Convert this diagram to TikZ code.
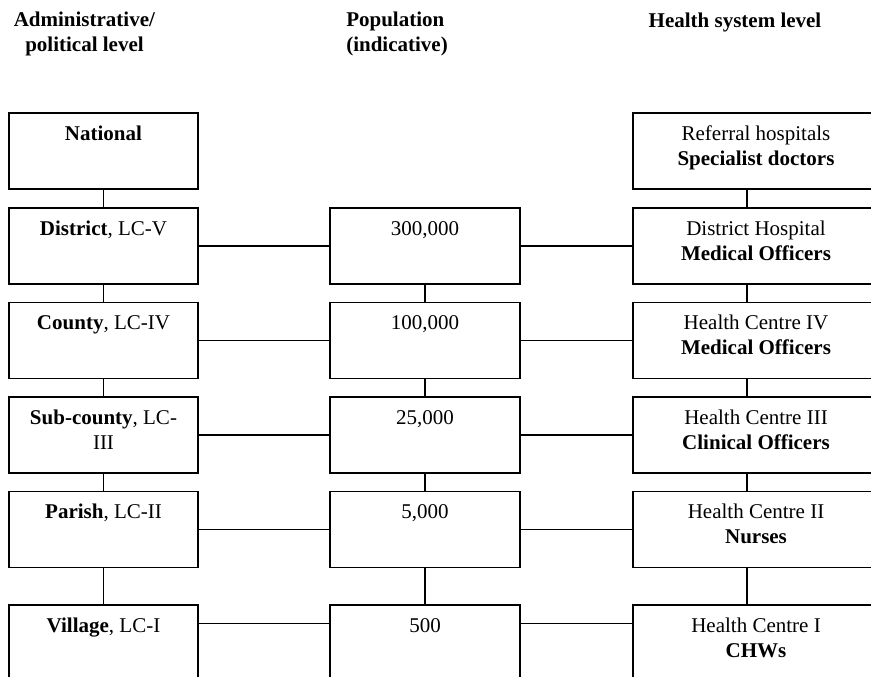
\documentclass[tikz,border=0pt]{standalone}
\usepackage{fontspec}
\setmainfont{Liberation Serif}
\usetikzlibrary{calc}
\tikzset{
  box/.style={draw, line width=0.9pt, inner sep=0pt, minimum height=57pt},
  adm/.style={box, minimum width=141.75pt},
  pop/.style={box, minimum width=142.5pt},
  hsl/.style={box, minimum width=184.5pt},
  tallbox/.style={minimum height=75pt},
  txt/.style={anchor=base, align=center, inner sep=0pt},
  link/.style={line width=0.9pt},
}
\begin{document}
\begin{tikzpicture}[x=0.75pt, y=-0.75pt,
  every node/.append style={font=\fontsize{15.75}{18.75}\selectfont}]
\clip (0,0) rectangle (871,677);

% column headings (base anchor = baseline of the last line)
\node[txt] (h1) at (84.5,52) {\textbf{Administrative/}\\\textbf{political level}};
\node[txt, align=left, anchor=base west] (h2) at (346,52) {\textbf{Population}\\\textbf{(indicative)}};
\node[txt] (h3) at (735,28) {\textbf{Health system level}};

% administrative / political boxes
\node[adm] (l1) at (103.5,151) {};
\node[adm] (l2) at (103.5,246) {};
\node[adm] (l3) at (103.5,340.5) {};
\node[adm] (l4) at (103.5,435) {};
\node[adm] (l5) at (103.5,529.5) {};
\node[adm, tallbox] (l6) at (103.5,655) {};

% population boxes
\node[pop] (m2) at (425,246) {};
\node[pop] (m3) at (425,340.5) {};
\node[pop] (m4) at (425,435) {};
\node[pop] (m5) at (425,529.5) {};
\node[pop, tallbox] (m6) at (425,655) {};

% health system boxes
\node[hsl] (r1) at (756,151) {};
\node[hsl] (r2) at (756,246) {};
\node[hsl] (r3) at (756,340.5) {};
\node[hsl] (r4) at (756,435) {};
\node[hsl] (r5) at (756,529.5) {};
\node[hsl, tallbox] (r6) at (756,655) {};

% box texts: one-line texts sit 28px below the top edge, two-line texts 53px
\node[txt] at ($(l1.north)+(0,28)$) {\textbf{National}};
\node[txt] at ($(l2.north)+(0,28)$) {\textbf{District}, LC-V};
\node[txt] at ($(l3.north)+(0,28)$) {\textbf{County}, LC-IV};
\node[txt] at ($(l4.north)+(0,53)$) {\textbf{Sub-county}, LC-\\III};
\node[txt] at ($(l5.north)+(0,28)$) {\textbf{Parish}, LC-II};
\node[txt] at ($(l6.north)+(0,28)$) {\textbf{Village}, LC-I};

\node[txt] at ($(m2.north)+(0,28)$) {300,000};
\node[txt] at ($(m3.north)+(0,28)$) {100,000};
\node[txt] at ($(m4.north)+(0,28)$) {25,000};
\node[txt] at ($(m5.north)+(0,28)$) {5,000};
\node[txt] at ($(m6.north)+(0,28)$) {500};

\node[txt] at ($(r1.north)+(0,53)$) {Referral hospitals\\\textbf{Specialist doctors}};
\node[txt] at ($(r2.north)+(0,53)$) {District Hospital\\\textbf{Medical Officers}};
\node[txt] at ($(r3.north)+(0,53)$) {Health Centre IV\\\textbf{Medical Officers}};
\node[txt] at ($(r4.north)+(0,53)$) {Health Centre III\\\textbf{Clinical Officers}};
\node[txt] at ($(r5.north)+(0,53)$) {Health Centre II\\\textbf{Nurses}};
\node[txt] at ($(r6.north)+(0,53)$) {Health Centre I\\\textbf{CHWs}};

% vertical links
\foreach \a/\b in {l1/l2, l2/l3, l3/l4, l4/l5, l5/l6, m2/m3, m3/m4, m4/m5, m5/m6}
  \draw[link] (\a.south) -- (\b.north);
\foreach \a/\b in {r1/r2, r2/r3, r3/r4, r4/r5, r5/r6}
  \draw[link] ($(\a.south)+(-9,0)$) -- ($(\b.north)+(-9,0)$);

% horizontal links
\foreach \n in {2,3,4,5} {
  \draw[link] (l\n.east) -- (m\n.west);
  \draw[link] (m\n.east) -- (r\n.west);
}
\draw[link] ($(l6.north east)+(0,19)$) -- ($(m6.north west)+(0,19)$);
\draw[link] ($(m6.north east)+(0,19)$) -- ($(r6.north west)+(0,19)$);
\end{tikzpicture}
\end{document}
